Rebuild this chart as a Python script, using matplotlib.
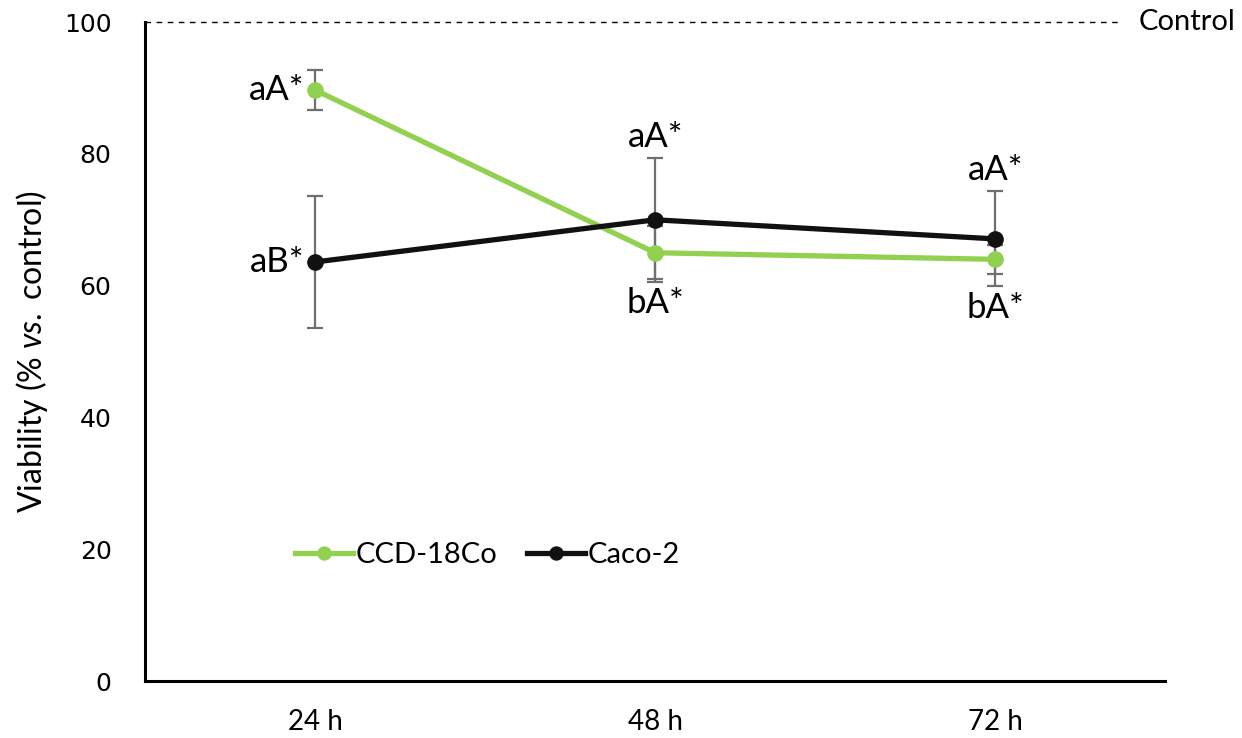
import numpy as np
import matplotlib
matplotlib.use("Agg")
import matplotlib.pyplot as plt

plt.rcParams['font.family'] = ['Lato', 'DejaVu Sans']
plt.rcParams['mathtext.fontset'] = 'custom'
plt.rcParams['mathtext.it'] = 'Lato:italic'
plt.rcParams['mathtext.rm'] = 'Lato'

times = ['24 h', '48 h', '72 h']
ccd = [89.7, 65.0, 64.0]
ccd_err = [3.1, 4.0, 2.2]
caco = [63.6, 70.0, 67.1]
caco_err = [10.0, 9.4, 7.2]
ccd_labels = ['aA*', 'bA*', 'bA*']
caco_labels = ['aB*', 'aA*', 'aA*']

green = '#92D050'
black = '#111111'
grey = '#6f6f6f'

fig = plt.figure(figsize=(12.42, 7.38), dpi=100)
ax = fig.add_axes([0.1167, 0.0772, 0.8216, 0.8928])

x = np.arange(len(times)) + 0.5

ax.errorbar(x, caco, yerr=caco_err, fmt='none', ecolor=grey, elinewidth=1.6, capsize=6, capthick=1.6, zorder=1)
ax.errorbar(x, ccd, yerr=ccd_err, fmt='none', ecolor=grey, elinewidth=1.6, capsize=6, capthick=1.6, zorder=1)
ax.plot(x, ccd, color=green, lw=3.8, marker='o', ms=11, label='CCD-18Co', zorder=3)
ax.plot(x, caco, color=black, lw=3.8, marker='o', ms=11, label='Caco-2', zorder=3)

# control reference
ax.plot([0, 2.86], [100, 100], color='black', lw=1.0, ls=(0, (4, 4)), clip_on=False)
ax.text(2.92, 100, 'Control', fontsize=21, va='center', ha='left', clip_on=False)

fs = 25
# 24 h labels to the left
ax.text(x[0] - 0.03, ccd[0], ccd_labels[0], fontsize=fs, ha='right', va='center')
ax.text(x[0] - 0.03, caco[0], caco_labels[0], fontsize=fs, ha='right', va='center')
# 48 h, 72 h: Caco above, CCD below
for i in [1, 2]:
    ax.text(x[i], caco[i] + caco_err[i] + 0.8, caco_labels[i], fontsize=fs, ha='center', va='bottom')
    ax.text(x[i], min(ccd[i] - ccd_err[i], caco[i] - caco_err[i]) - 0.8, ccd_labels[i], fontsize=fs, ha='center', va='top')

ax.set_xlim(0, 3)
ax.set_ylim(0, 100)
ax.set_xticks(x)
ax.set_xticklabels(times, fontsize=20)
ax.set_yticks([0, 20, 40, 60, 80, 100])
ax.set_yticklabels(['0', '20', '40', '60', '80', '100'], fontsize=18, family='DejaVu Sans')
ax.tick_params(length=0)
ax.tick_params(axis='y', pad=24)
ax.tick_params(axis='x', pad=20)
ax.set_ylabel('Viability (% $\\mathit{vs.}$ control)', fontsize=23, labelpad=10)

for s in ['top', 'right']:
    ax.spines[s].set_visible(False)
for s in ['left', 'bottom']:
    ax.spines[s].set_linewidth(2.2)
    ax.spines[s].set_color('black')

ax.legend(loc='center left', bbox_to_anchor=(0.121, 0.191), frameon=False, ncol=2,
          fontsize=21, handlelength=2.0, handletextpad=0.1, columnspacing=1.0,
          markerscale=0.85)

fig.savefig('out.png', dpi=100)
